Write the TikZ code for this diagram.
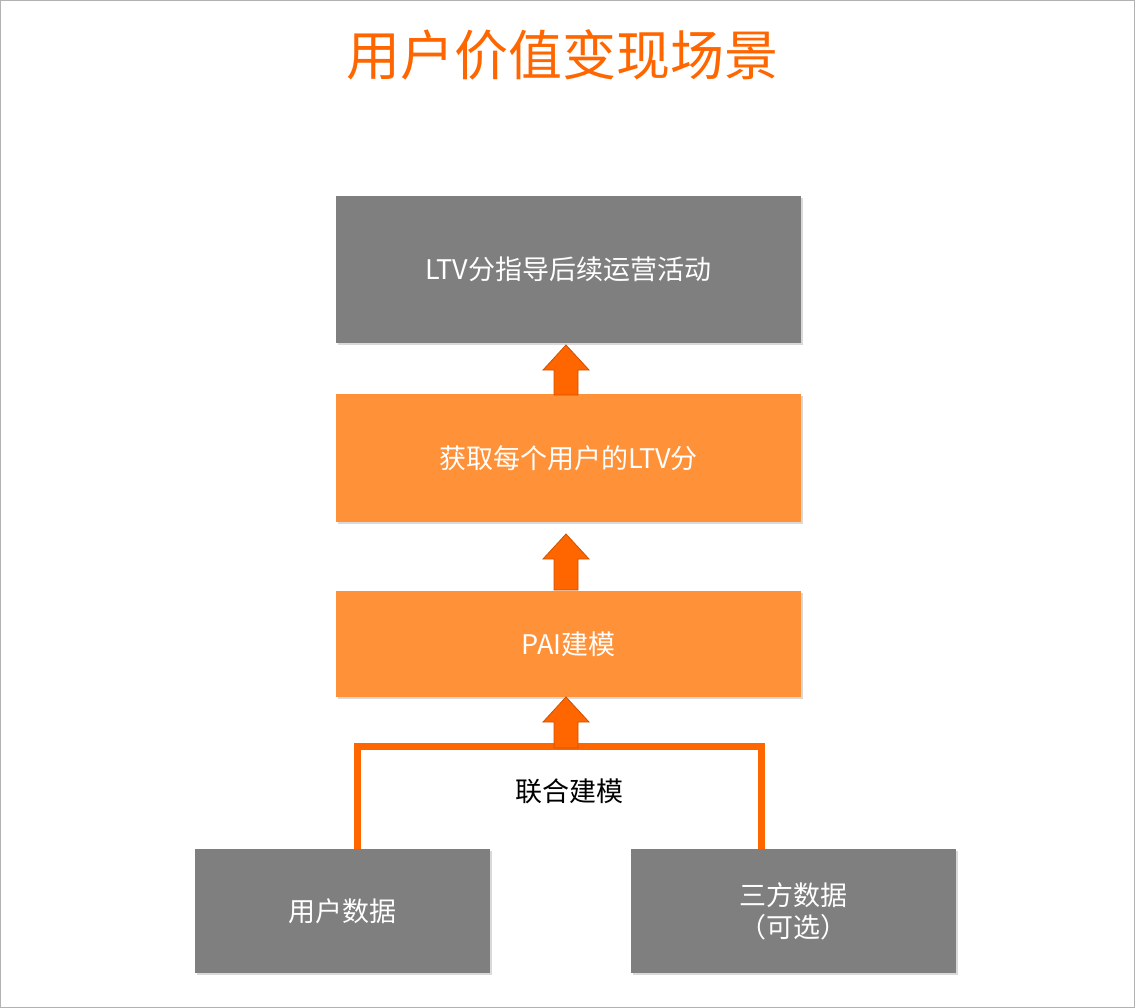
\documentclass[tikz,border=0pt]{standalone}
\usepackage{fontspec}
\setmainfont{Noto Sans CJK SC}
\usetikzlibrary{shadows}
\definecolor{og}{HTML}{FF6600}
\definecolor{ob}{HTML}{FF9138}
\definecolor{gb}{HTML}{7F7F7F}
\tikzset{x=1pt,y=-1pt,
 boxg/.style={fill=gb,draw=none,text=white,font=\fontsize{27}{32}\selectfont,align=center,drop shadow={shadow xshift=2pt,shadow yshift=-2pt,opacity=0.3}},
 boxo/.style={fill=ob,draw=none,text=white,font=\fontsize{27}{32}\selectfont,align=center,drop shadow={shadow xshift=2pt,shadow yshift=-2pt,opacity=0.3}},
 barrow/.style={fill=og,draw=og!80!black,line width=0.8pt}}
\newcommand{\blockarrow}[3]{% x, top y, bottom y
 \draw[barrow] (#1,#2) -- (#1+23,#2+25) -- (#1+12,#2+25) -- (#1+12,#3) -- (#1-12,#3) -- (#1-12,#2+25) -- (#1-23,#2+25) -- cycle;}
\begin{document}
\begin{tikzpicture}
\useasboundingbox (0,0) rectangle (1135,1008);
\draw[gray!60,line width=1pt] (0.5,0.5) rectangle (1134.5,1007.5);
\node[text=og,font=\fontsize{54}{60}\selectfont] (title) at (562,55) {用户价值变现场景};
\node[boxg,minimum width=465,minimum height=147] (b1) at (568.5,269.5) {LTV分指导后续运营活动};
\node[boxo,minimum width=465,minimum height=128] (b2) at (568.5,458) {获取每个用户的LTV分};
\node[boxo,minimum width=465,minimum height=106] (b3) at (568.5,644) {PAI建模};
\node[boxg,minimum width=295,minimum height=124] (b4) at (342.5,911) {用户数据};
\node[boxg,minimum width=325,minimum height=124] (b5) at (793.5,911) {三方数据\\（可选）};
\node[font=\fontsize{27}{32}\selectfont] (lbl) at (569,791) {联合建模};
\coordinate (cl) at (b4.north -| 357,0);
\coordinate (cr) at (b5.north -| 761,0);
\draw[og,line width=7pt] (cl) -- (357,746) -- (761,746) -- (cr);
\blockarrow{566}{345}{395}
\blockarrow{566}{534}{590}
\blockarrow{566}{697}{748}
\end{tikzpicture}
\end{document}
